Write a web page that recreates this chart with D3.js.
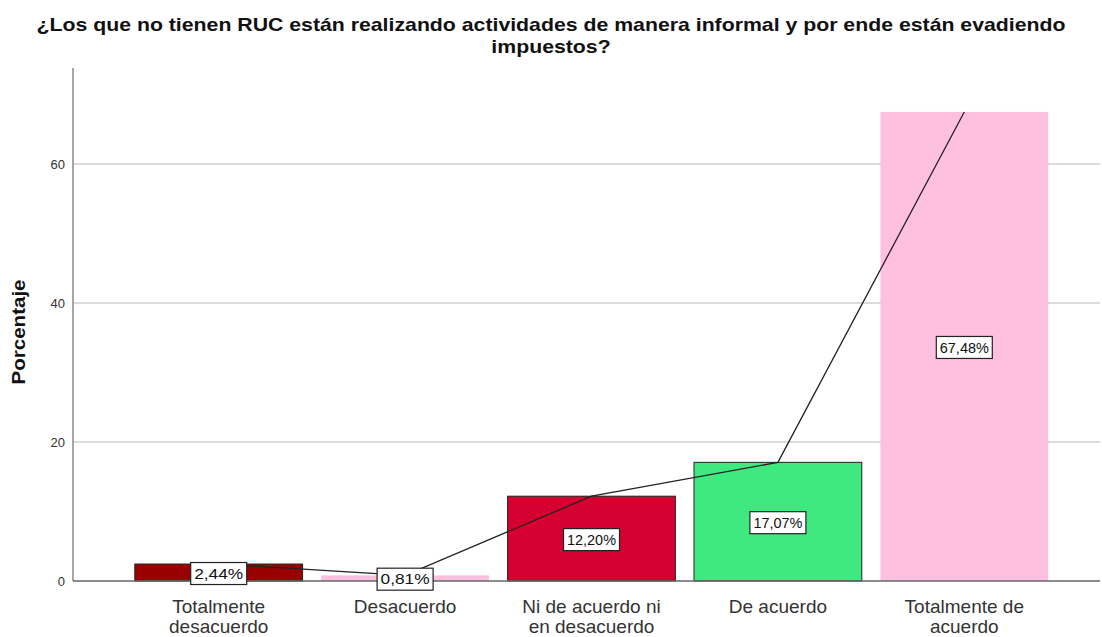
<!DOCTYPE html>
<html><head><meta charset="utf-8">
<script src="https://cdn.jsdelivr.net/npm/d3@7"></script>
<style>body{margin:0;background:#fff}svg{display:block}</style>
</head><body>
<script>
const categories = [["Totalmente","desacuerdo"],["Desacuerdo"],["Ni de acuerdo ni","en desacuerdo"],["De acuerdo"],["Totalmente de","acuerdo"]];
const values = [2.44, 0.81, 12.20, 17.07, 67.48];
const valueLabels = ["2,44%","0,81%","12,20%","17,07%","67,48%"];
const colors = ["#990000","#ffc0e0","#d60030","#40e880","#ffc0e0"];
const strokes = ["#222","none","#222","#222","none"];
const yTicks = [0,20,40,60];
const titleLines = ["¿Los que no tienen RUC están realizando actividades de manera informal y por ende están evadiendo","impuestos?"];
const yLabel = "Porcentaje";

const W=1102,H=637;
const FONT="Liberation Sans, Arial, sans-serif";
const svg=d3.select("body").append("svg").attr("width",W).attr("height",H);
const x0=73, x1=1100, yTop=68, yBot=581;
const y=d3.scaleLinear().domain([0,73.8]).range([yBot,yTop]);
const x=d3.scaleBand().domain(d3.range(values.length)).range([125.5,1057.5]).paddingInner(0.1).paddingOuter(0.05);

// gridlines
svg.append("g").selectAll("line").data(yTicks.filter(d=>d>0)).join("line")
  .attr("x1",x0).attr("x2",x1).attr("y1",d=>y(d)).attr("y2",d=>y(d))
  .attr("stroke","#cfcfcf").attr("stroke-width",1.5);

// y axis
const ya=svg.append("g").attr("transform",`translate(${x0},0)`).call(d3.axisLeft(y).tickValues(yTicks).tickSize(0).tickPadding(8));
ya.select(".domain").remove();
ya.selectAll("text").attr("font-family",FONT).attr("font-size",13).attr("fill","#333");
svg.append("line").attr("x1",x0).attr("x2",x0).attr("y1",yTop).attr("y2",yBot).attr("stroke","#8a8a8a").attr("stroke-width",1.5);

// bars
svg.append("g").selectAll("rect").data(values).join("rect")
  .attr("x",(d,i)=>x(i)).attr("width",x.bandwidth())
  .attr("y",d=>y(d)).attr("height",d=>yBot-y(d))
  .attr("fill",(d,i)=>colors[i]).attr("stroke",(d,i)=>strokes[i]).attr("stroke-width",1);

// x axis baseline
svg.append("line").attr("x1",x0).attr("x2",x1).attr("y1",yBot).attr("y2",yBot).attr("stroke","#666").attr("stroke-width",1.5);

// line
const line=d3.line().x((d,i)=>x(i)+x.bandwidth()/2).y(d=>y(d));
svg.append("path").datum(values).attr("d",line).attr("fill","none").attr("stroke","#222").attr("stroke-width",1.3);

// value labels
const lg=svg.append("g").selectAll("g").data(values).join("g")
  .attr("transform",(d,i)=>`translate(${x(i)+x.bandwidth()/2},${(y(d)+yBot)/2+1})`);
lg.append("rect").attr("x",-28).attr("y",-11).attr("width",56).attr("height",22)
  .attr("fill","#fff").attr("stroke","#222").attr("stroke-width",1.2);
lg.append("text").text((d,i)=>valueLabels[i]).attr("text-anchor","middle").attr("dy","0.36em")
  .attr("font-family",FONT).attr("font-size",14).attr("fill","#111")
  .attr("textLength",49).attr("lengthAdjust","spacingAndGlyphs");

// x labels
const xl=svg.append("g").selectAll("text").data(categories).join("text")
  .attr("x",(d,i)=>x(i)+x.bandwidth()/2).attr("y",613).attr("text-anchor","middle")
  .attr("font-family",FONT).attr("font-size",19).attr("fill","#333");
xl.selectAll("tspan").data(d=>d).join("tspan").attr("x",function(){return this.parentNode.getAttribute("x");})
  .attr("dy",(d,i)=>i?20:0).text(d=>d);

// title
const tt=svg.append("g").selectAll("text").data(titleLines).join("text")
  .attr("x",551).attr("y",(d,i)=>31+i*22).attr("text-anchor","middle")
  .attr("font-family",FONT).attr("font-weight","bold").attr("font-size",19).attr("fill","#111")
  .text(d=>d);
const n0=tt.nodes()[0].getComputedTextLength();
const sc=1029/n0;
tt.each(function(){const w=this.getComputedTextLength();d3.select(this).attr("textLength",w*sc).attr("lengthAdjust","spacingAndGlyphs");});

// y label
svg.append("text").attr("transform","translate(25,332) rotate(-90)").attr("text-anchor","middle")
  .attr("font-family",FONT).attr("font-weight","bold").attr("font-size",19).attr("fill","#111")
  .attr("textLength",105).attr("lengthAdjust","spacingAndGlyphs")
  .text(yLabel);
</script>
</body></html>
